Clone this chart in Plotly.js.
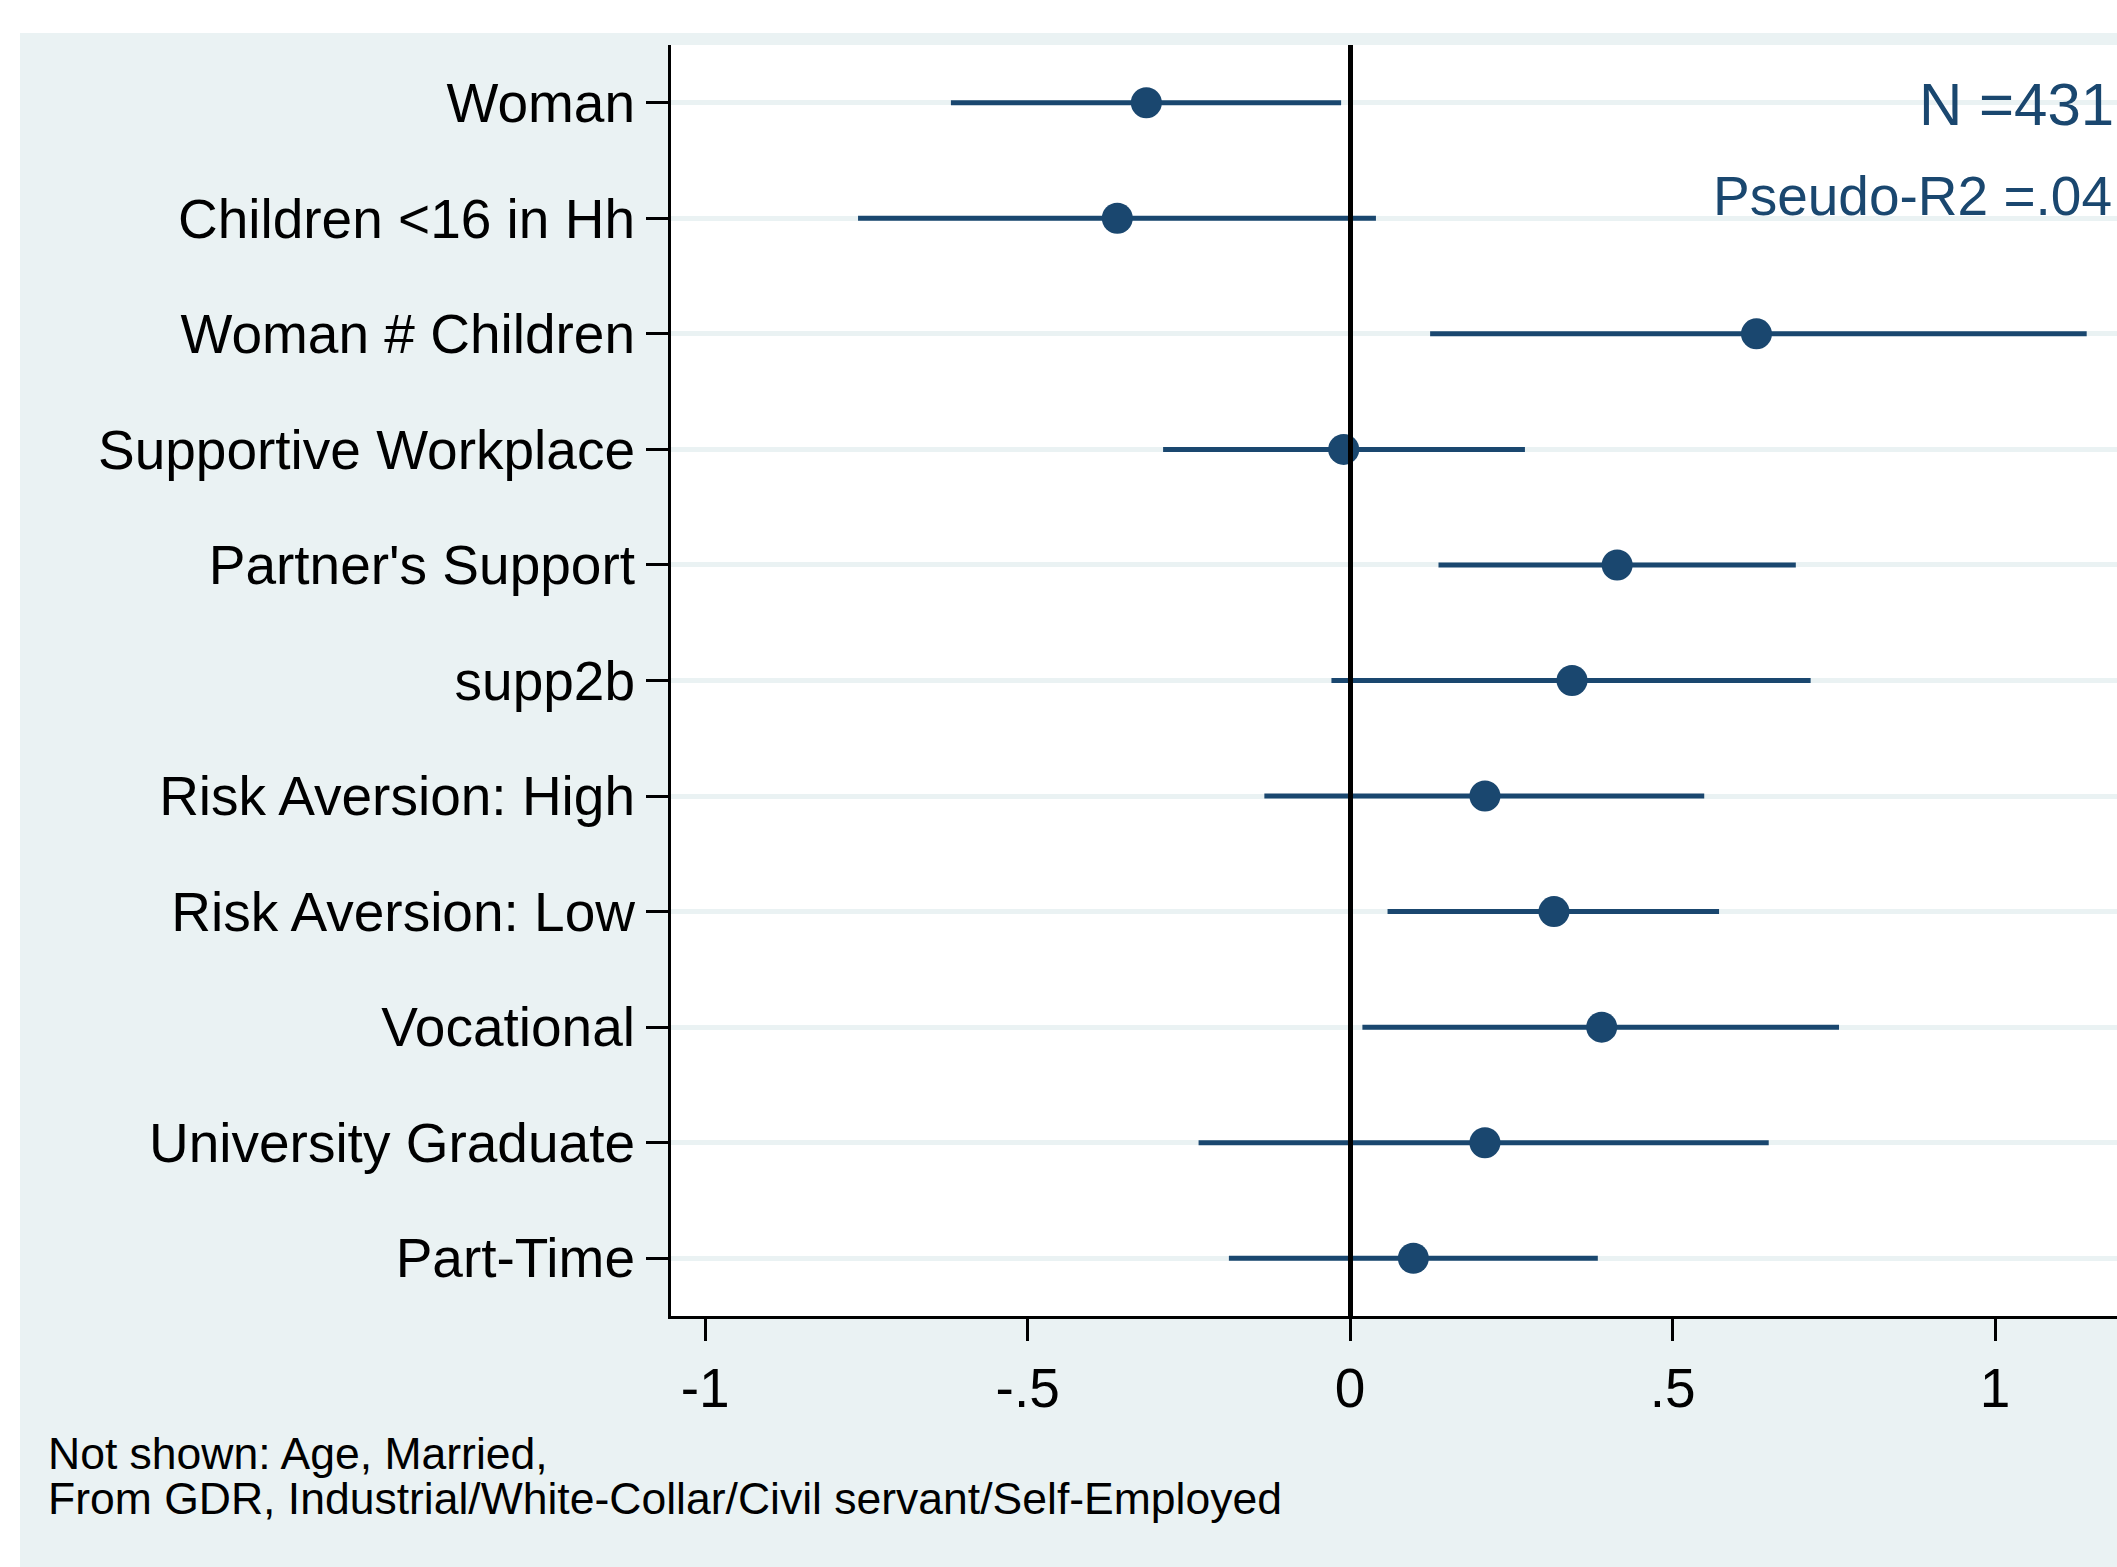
<!DOCTYPE html>
<html>
<head>
<meta charset="utf-8">
<script src="https://cdn.plot.ly/plotly-3.0.1.min.js"></script>
<style>
html, body { margin: 0; padding: 0; background: #ffffff; width: 2117px; height: 1567px; overflow: hidden; }
#chart { position: absolute; left: 20px; top: 33px; width: 2097px; height: 1534px; }
</style>
</head>
<body>
<div id="chart"></div>
<script>
// Variables (top to bottom)
const categories = [
  "Woman",
  "Children <16 in Hh",
  "Woman # Children",
  "Supportive Workplace",
  "Partner's Support",
  "supp2b",
  "Risk Aversion: High",
  "Risk Aversion: Low",
  "Vocational",
  "University Graduate",
  "Part-Time"
];
// Point estimates
const estimates = [-0.316, -0.361, 0.630, -0.010, 0.414, 0.344, 0.209, 0.316, 0.390, 0.209, 0.098];
// Lower and upper confidence bounds
const lower = [-0.619, -0.763, 0.124, -0.290, 0.137, -0.029, -0.133, 0.058, 0.019, -0.235, -0.188];
const upper = [-0.014, 0.040, 1.142, 0.271, 0.691, 0.714, 0.549, 0.572, 0.758, 0.649, 0.384];
// x-axis ticks
const xTickVals = [-1, -0.5, 0, 0.5, 1];
const xTickText = ["-1", "-.5", "0", ".5", "1"];
// Annotation texts
const statN = "N =431";
const statR2 = "Pseudo-R2 =.04";
const noteLines = ["Not shown: Age, Married,", "From GDR, Industrial/White-Collar/Civil servant/Self-Employed"];

const navy = "#1a476f";
const bg = "#eaf2f3";
const font = "Liberation Sans, Arial, sans-serif";

const errPlus = upper.map((u, i) => u - estimates[i]);
const errMinus = lower.map((l, i) => estimates[i] - l);

const trace = {
  type: "scatter",
  mode: "markers",
  x: estimates,
  y: categories,
  marker: { color: navy, size: 31, line: { width: 0 } },
  error_x: {
    type: "data",
    symmetric: false,
    array: errPlus,
    arrayminus: errMinus,
    color: navy,
    thickness: 5,
    width: 0
  },
  hoverinfo: "x+y",
  showlegend: false
};

const layout = {
  width: 2097,
  height: 1534,
  margin: { l: 651, r: 0, t: 12, b: 251, pad: 0 },
  paper_bgcolor: bg,
  plot_bgcolor: "#ffffff",
  font: { family: font, color: "#000000", size: 55 },
  showlegend: false,
  xaxis: {
    range: [-1.053, 1.189],
    tickmode: "array",
    tickvals: xTickVals,
    ticktext: xTickText,
    ticks: "outside",
    ticklen: 22,
    tickwidth: 3,
    tickcolor: "#000000",
    tickfont: { family: font, size: 55, color: "#000000" },
    showline: true,
    linecolor: "#000000",
    linewidth: 3,
    showgrid: false,
    zeroline: true,
    zerolinecolor: "#000000",
    zerolinewidth: 5,
    zerolinelayer: "above traces",
    fixedrange: true
  },
  yaxis: {
    type: "category",
    categoryorder: "array",
    categoryarray: categories,
    range: [10.5, -0.5],
    ticks: "outside",
    ticklen: 22,
    tickwidth: 3,
    tickcolor: "#000000",
    ticklabelstandoff: 0,
    tickfont: { family: font, size: 55, color: "#000000" },
    showline: true,
    linecolor: "#000000",
    linewidth: 3,
    showgrid: true,
    gridcolor: bg,
    gridwidth: 5,
    zeroline: false,
    fixedrange: true
  },
  annotations: [
    {
      text: statN, xref: "paper", yref: "paper", x: 1, y: 0.953,
      xanchor: "right", yanchor: "middle", xshift: -1, showarrow: false,
      font: { family: font, size: 60, color: navy }
    },
    {
      text: statR2, xref: "paper", yref: "paper", x: 1, y: 0.881,
      xanchor: "right", yanchor: "middle", xshift: -3, showarrow: false,
      font: { family: font, size: 55, color: navy }
    },
    {
      text: noteLines[0], xref: "paper", yref: "paper", x: -0.432, y: -0.1078,
      xanchor: "left", yanchor: "middle", showarrow: false,
      font: { family: font, size: 44.5, color: "#000000" }
    },
    {
      text: noteLines[1], xref: "paper", yref: "paper", x: -0.432, y: -0.1432,
      xanchor: "left", yanchor: "middle", showarrow: false,
      font: { family: font, size: 44.5, color: "#000000" }
    }
  ]
};

Plotly.newPlot("chart", [trace], layout, { displayModeBar: false, staticPlot: true });
</script>
</body>
</html>
